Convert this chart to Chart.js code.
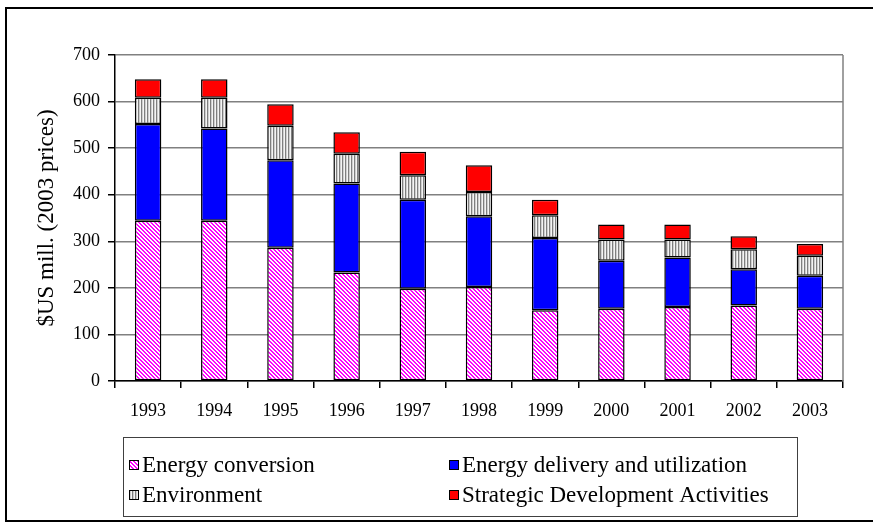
<!DOCTYPE html>
<html>
<head>
<meta charset="utf-8">
<script src="https://cdn.jsdelivr.net/npm/chart.js@4.4.0/dist/chart.umd.min.js"></script>
<style>
  html, body { margin: 0; padding: 0; background: #fff; }
  #wrap { width: 873px; height: 527px; position: relative; }
</style>
</head>
<body>
<div id="wrap"><canvas id="fundingChart" width="873" height="527"></canvas></div>
<script>
const years = ['1993', '1994', '1995', '1996', '1997', '1998', '1999', '2000', '2001', '2002', '2003'];
const energyConversion = [344, 344, 286, 233, 198, 202, 152, 155, 159, 162, 155];
const energyDelivery = [208, 198, 188, 191, 191, 152, 155, 103, 106, 78, 71];
const environment = [56, 66, 74, 64, 53, 52, 49, 46, 39, 43, 43];
const strategicDev = [40, 40, 46, 46, 50, 57, 33, 32, 32, 28, 25];
const seriesNames = ['Energy conversion', 'Energy delivery and utilization', 'Environment', 'Strategic Development Activities'];
const yTicks = [0, 100, 200, 300, 400, 500, 600, 700];

const FONT = 'Liberation Serif';

function makeTile(w, h, paint) {
    const c = document.createElement('canvas');
    c.width = w; c.height = h;
    const t = c.getContext('2d');
    paint(t);
    return c;
}

const ctx = document.getElementById('fundingChart').getContext('2d');

const pinkTile = makeTile(4, 4, t => {
    t.fillStyle = '#ffffff';
    t.fillRect(0, 0, 4, 4);
    t.fillStyle = '#ff00ff';
    for (let i = 0; i < 4; i++) {
        t.fillRect(i, i, 1, 1);
        t.fillRect((i + 1) % 4, i, 1, 1);
    }
});
const greyTile = makeTile(3, 1, t => {
    t.fillStyle = '#7f7f7f'; t.fillRect(0, 0, 1, 1);
    t.fillStyle = '#cfcfcf'; t.fillRect(1, 0, 1, 1);
    t.fillStyle = '#f4f4f4'; t.fillRect(2, 0, 1, 1);
});
const pinkPattern = ctx.createPattern(pinkTile, 'repeat');
const greyPattern = ctx.createPattern(greyTile, 'repeat');

const fills = [pinkPattern, '#0000ff', greyPattern, '#ff0000'];

// frame round the whole picture, right edge of plot and boxed two-column legend
const framePlugin = {
    id: 'frame',
    afterDraw(chart) {
        const c = chart.ctx;
        const a = chart.chartArea;
        c.save();
        c.strokeStyle = '#808080';
        c.lineWidth = 1.5;
        c.beginPath();
        c.moveTo(a.right, a.top);
        c.lineTo(a.right, a.bottom);
        c.stroke();

        c.strokeStyle = '#000';
        c.lineWidth = 2;
        c.strokeRect(6, 8, 870, 513);

        // legend
        c.lineWidth = 1;
        c.strokeStyle = '#404040';
        c.strokeRect(123.5, 437.5, 674, 79);
        const cols = [129, 449];
        const rows = [465, 495];
        c.font = '23px "' + FONT + '"';
        c.textBaseline = 'middle';
        c.textAlign = 'left';
        seriesNames.forEach((name, i) => {
            const x = cols[i % 2];
            const y = rows[Math.floor(i / 2)];
            c.fillStyle = fills[i];
            c.fillRect(x, y - 5, 10, 10);
            c.strokeStyle = '#000';
            c.lineWidth = 1;
            c.strokeRect(x + 0.5, y - 4.5, 9, 9);
            c.fillStyle = '#000';
            c.fillText(name, x + 13, y + 1);
        });
        c.restore();
    }
};

new Chart(ctx, {
    type: 'bar',
    data: {
        labels: years,
        datasets: [
            { label: seriesNames[0], data: energyConversion, backgroundColor: fills[0] },
            { label: seriesNames[1], data: energyDelivery, backgroundColor: fills[1] },
            { label: seriesNames[2], data: environment, backgroundColor: fills[2] },
            { label: seriesNames[3], data: strategicDev, backgroundColor: fills[3] }
        ].map(d => Object.assign(d, {
            borderColor: '#000',
            borderWidth: 1.5,
            borderSkipped: false,
            barPercentage: 0.4,
            categoryPercentage: 1.0
        }))
    },
    options: {
        responsive: false,
        animation: false,
        layout: { padding: { top: 55, right: 30, bottom: 0, left: 0 } },
        plugins: {
            legend: { display: false },
            tooltip: { enabled: false }
        },
        scales: {
            x: {
                stacked: true,
                afterFit: s => { s.height = 146; },
                grid: {
                    offset: true,
                    drawOnChartArea: false,
                    color: '#000',
                    tickLength: 7,
                    lineWidth: 1.5
                },
                border: { color: '#000', width: 1.5 },
                ticks: {
                    color: '#000',
                    padding: 12,
                    maxRotation: 0,
                    font: { family: FONT, size: 18 }
                }
            },
            y: {
                stacked: true,
                min: 0,
                max: 700,
                afterFit: s => { s.width = 115; },
                afterBuildTicks: s => { s.ticks = yTicks.map(v => ({ value: v })); },
                grid: {
                    color: '#808080',
                    lineWidth: 1.5,
                    tickColor: '#000',
                    tickLength: 7
                },
                border: { color: '#000', width: 1.5 },
                title: {
                    display: true,
                    text: '$US mill. (2003 prices)',
                    color: '#000',
                    padding: { top: 33, bottom: 0 },
                    font: { family: FONT, size: 23, weight: 'normal' }
                },
                ticks: {
                    color: '#000',
                    padding: 8,
                    font: { family: FONT, size: 18 }
                }
            }
        }
    },
    plugins: [framePlugin]
});
</script>
</body>
</html>
